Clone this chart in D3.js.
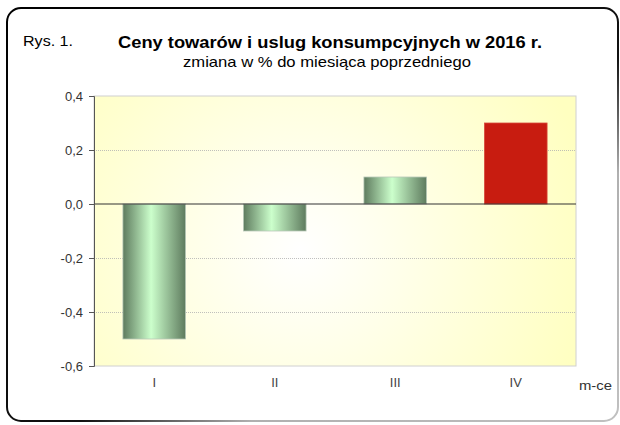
<!DOCTYPE html>
<html>
<head>
<meta charset="utf-8">
<script src="https://cdn.jsdelivr.net/npm/d3@7"></script>
<style>
  body { margin: 0; background: #fff; }
  text { font-family: "Liberation Sans", Arial, sans-serif; }
</style>
</head>
<body>
<script>
var months = ["I", "II", "III", "IV"];
var values = [-0.5, -0.1, 0.1, 0.3];
var yTicks = [-0.6, -0.4, -0.2, 0.0, 0.2, 0.4];

var width = 620, height = 425;
var plot = { left: 94, right: 576, top: 96, bottom: 366 };

var svg = d3.select("body").append("svg")
	.attr("width", width)
	.attr("height", height);

var defs = svg.append("defs");

var bg = defs.append("radialGradient")
	.attr("id", "bg")
	.attr("gradientUnits", "userSpaceOnUse")
	.attr("cx", 300).attr("cy", 250).attr("r", 300);
bg.append("stop").attr("offset", "0%").attr("stop-color", "#ffffff");
bg.append("stop").attr("offset", "100%").attr("stop-color", "#ffffc0");

var green = defs.append("linearGradient")
	.attr("id", "green")
	.attr("x1", "0%").attr("x2", "100%").attr("y1", "0%").attr("y2", "0%");
green.append("stop").attr("offset", "0%").attr("stop-color", "#5e7b5e");
green.append("stop").attr("offset", "45%").attr("stop-color", "#ccffcc");
green.append("stop").attr("offset", "100%").attr("stop-color", "#5e7b5e");

// frame stroke: dark on top/left, fading to a soft grey on right/bottom
var frameStroke = defs.append("linearGradient")
	.attr("id", "frame")
	.attr("x1", "0%").attr("y1", "0%").attr("x2", "100%").attr("y2", "100%");
frameStroke.append("stop").attr("offset", "0%").attr("stop-color", "#000");
frameStroke.append("stop").attr("offset", "56%").attr("stop-color", "#111");
frameStroke.append("stop").attr("offset", "70%").attr("stop-color", "#b0b0b0");
frameStroke.append("stop").attr("offset", "100%").attr("stop-color", "#c0c0c0");

// outer frame
svg.append("rect")
	.attr("x", 7).attr("y", 8)
	.attr("width", 611).attr("height", 413)
	.attr("rx", 14)
	.attr("fill", "#fff")
	.attr("stroke", "url(#frame)")
	.attr("stroke-width", 2);

// titles
svg.append("text")
	.attr("x", 23).attr("y", 46)
	.attr("font-size", "15.5px")
	.attr("textLength", 50)
	.attr("lengthAdjust", "spacingAndGlyphs")
	.attr("fill", "#000")
	.text("Rys. 1.");

svg.append("text")
	.attr("x", 118).attr("y", 48)
	.attr("font-size", "17px")
	.attr("font-weight", "bold")
	.attr("textLength", 424)
	.attr("lengthAdjust", "spacingAndGlyphs")
	.text("Ceny towarów i uslug konsumpcyjnych w 2016 r.");

svg.append("text")
	.attr("x", 183).attr("y", 67)
	.attr("font-size", "15px")
	.attr("textLength", 288)
	.attr("lengthAdjust", "spacingAndGlyphs")
	.text("zmiana w % do miesiąca poprzedniego");

var x = d3.scaleBand()
	.domain(months)
	.range([plot.left, plot.right])
	.paddingInner(0.48)
	.paddingOuter(0.24);

var y = d3.scaleLinear()
	.domain([-0.6, 0.4])
	.range([plot.bottom, plot.top]);

// plot area
svg.append("rect")
	.attr("x", plot.left).attr("y", plot.top)
	.attr("width", plot.right - plot.left)
	.attr("height", plot.bottom - plot.top)
	.attr("fill", "url(#bg)")
	.attr("stroke", "#d0d0d0")
	.attr("stroke-width", 1);

// gridlines
svg.append("g")
	.selectAll("line")
	.data(yTicks.filter(function (d) { return d !== 0 && d !== -0.6 && d !== 0.4; }))
	.enter()
	.append("line")
	.attr("x1", plot.left).attr("x2", plot.right)
	.attr("y1", function (d) { return y(d) + 0.5; })
	.attr("y2", function (d) { return y(d) + 0.5; })
	.attr("stroke", "#b0b0b0")
	.attr("stroke-width", 0.8)
	.attr("stroke-dasharray", "1,1");

// bars
svg.append("g")
	.selectAll("rect")
	.data(values)
	.enter()
	.append("rect")
	.attr("x", function (d, i) { return x(months[i]); })
	.attr("width", x.bandwidth())
	.attr("y", function (d) { return y(Math.max(0, d)); })
	.attr("height", function (d) { return Math.abs(y(d) - y(0)); })
	.attr("fill", function (d, i) { return i === 3 ? "#c81c10" : "url(#green)"; })
	.attr("stroke", function (d, i) { return i === 3 ? "#d84a3c" : "#b8c8b8"; })
	.attr("stroke-width", 0.8);

// zero line
svg.append("line")
	.attr("x1", plot.left).attr("x2", plot.right)
	.attr("y1", y(0)).attr("y2", y(0))
	.attr("stroke", "#333")
	.attr("stroke-width", 1.2);

// y axis
var yAxis = d3.axisLeft(y)
	.tickValues(yTicks)
	.tickSize(5)
	.tickPadding(6)
	.tickFormat(function (d) { return d3.format(".1f")(d).replace(".", ",").replace("−", "-"); });

var ya = svg.append("g")
	.attr("transform", "translate(" + plot.left + ",0)")
	.call(yAxis);
ya.select(".domain").attr("stroke", "#555");
ya.selectAll(".tick line").attr("stroke", "#555");
ya.selectAll(".tick text")
	.attr("font-family", "Liberation Sans, Arial, sans-serif")
	.attr("font-size", "13px")
	.attr("fill", "#333");

// x labels
var xAxis = d3.axisBottom(x).tickSize(0).tickPadding(12);
var xa = svg.append("g")
	.attr("transform", "translate(0," + plot.bottom + ")")
	.call(xAxis);
xa.select(".domain").remove();
xa.selectAll(".tick text")
	.attr("font-family", "Liberation Sans, Arial, sans-serif")
	.attr("font-size", "13px")
	.attr("fill", "#444");

svg.append("text")
	.attr("x", 579).attr("y", 390)
	.attr("font-size", "13.5px")
	.attr("textLength", 33)
	.attr("lengthAdjust", "spacingAndGlyphs")
	.attr("fill", "#333")
	.text("m-ce");
</script>
</body>
</html>
